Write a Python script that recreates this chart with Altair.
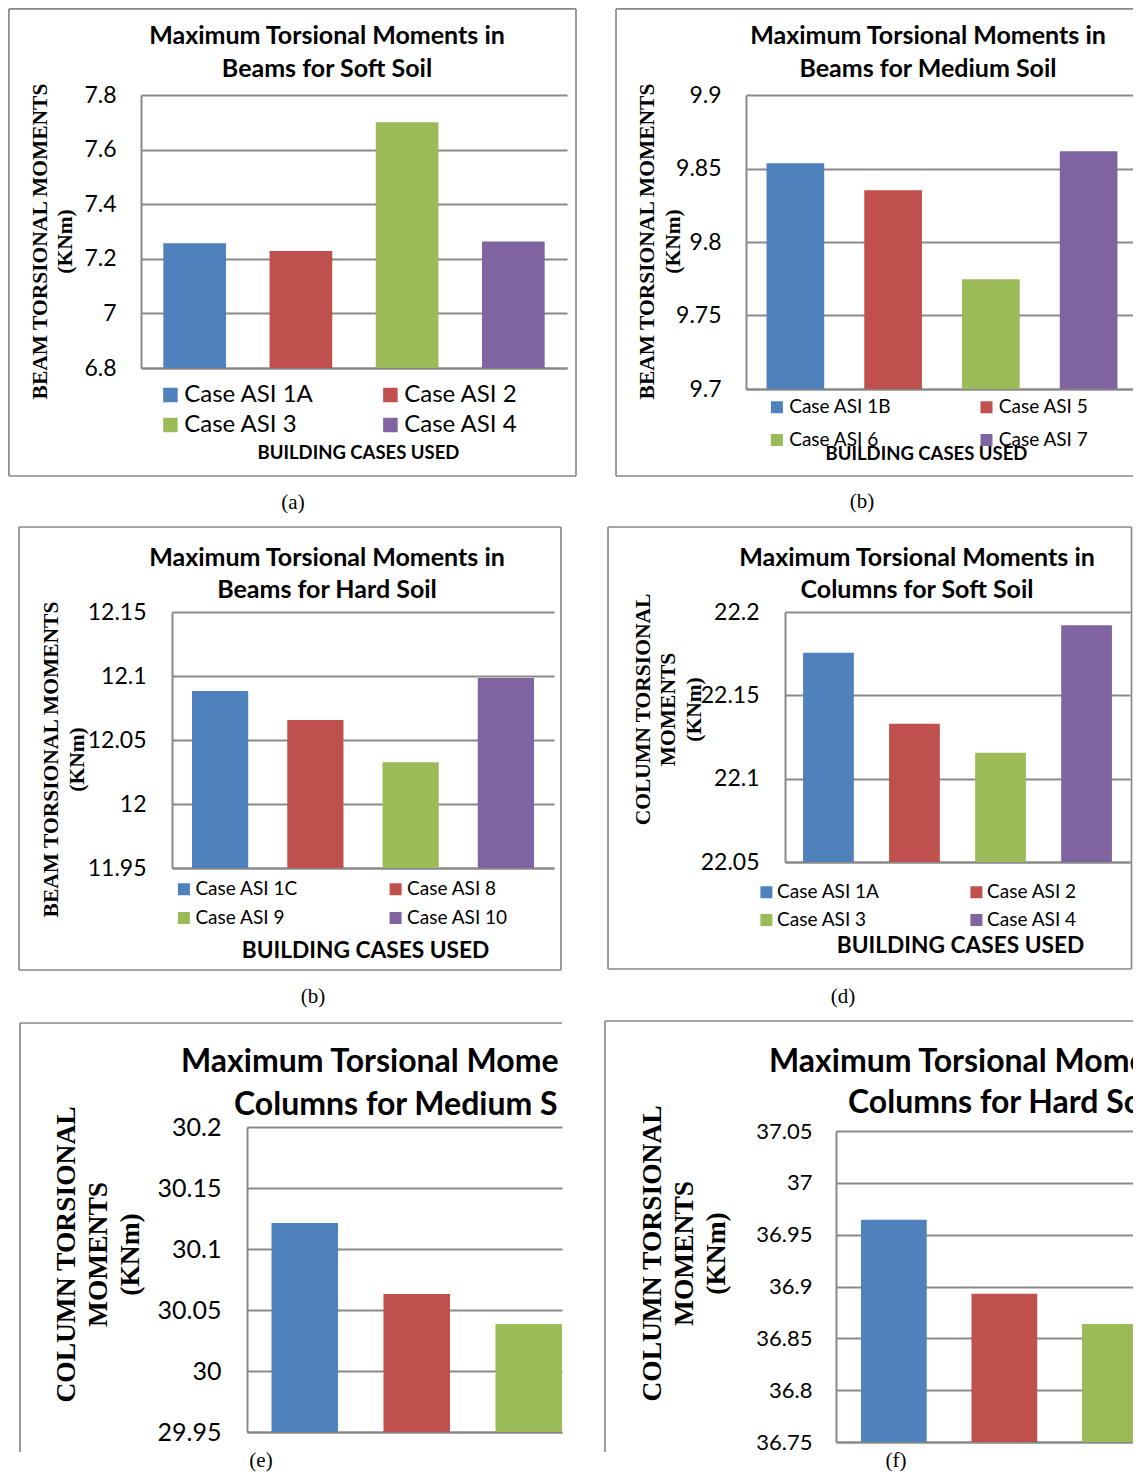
import altair as alt
import pandas as pd

# ---------------- data ----------------
cases_a = ["Case ASI 1A", "Case ASI 2", "Case ASI 3", "Case ASI 4"]
vals_a = [7.257, 7.229, 7.700, 7.263]
ticks_a = [6.8, 7.0, 7.2, 7.4, 7.6, 7.8]

cases_b = ["Case ASI 1B", "Case ASI 5", "Case ASI 6", "Case ASI 7"]
vals_b = [9.8536, 9.8352, 9.7747, 9.8618]
ticks_b = [9.7, 9.75, 9.8, 9.85, 9.9]

cases_c = ["Case ASI 1C", "Case ASI 8", "Case ASI 9", "Case ASI 10"]
vals_c = [12.0883, 12.0656, 12.0326, 12.0984]
ticks_c = [11.95, 12.0, 12.05, 12.1, 12.15]

cases_d = ["Case ASI 1A", "Case ASI 2", "Case ASI 3", "Case ASI 4"]
vals_d = [22.1756, 22.1330, 22.1156, 22.1920]
ticks_d = [22.05, 22.1, 22.15, 22.2]

cases_e = ["Case ASI 1B", "Case ASI 5", "Case ASI 6"]
vals_e = [30.1213, 30.0631, 30.0385]
ticks_e = [29.95, 30.0, 30.05, 30.1, 30.15, 30.2]

cases_f = ["Case ASI 1C", "Case ASI 8", "Case ASI 9"]
vals_f = [36.9644, 36.8930, 36.8638]
ticks_f = [36.75, 36.8, 36.85, 36.9, 36.95, 37.0, 37.05]

colors = ["#4F81BD", "#C0504D", "#9BBB59", "#8064A2"]

# ---------------- layout helpers ----------------
M = 8
W, H = 1125, 1465
GRAY = "#898989"
one = pd.DataFrame({"k": [0]})


def hrule(x1, x2, y, w=1.7):
    return alt.Chart(one).mark_rule(color=GRAY, strokeWidth=w).encode(
        x=alt.value(x1 - M), x2=alt.value(x2 - M), y=alt.value(y - M))


def vrule(x, y1, y2, w=1.7):
    return alt.Chart(one).mark_rule(color=GRAY, strokeWidth=w).encode(
        x=alt.value(x - M), y=alt.value(y1 - M), y2=alt.value(y2 - M))


def label(text, x, y, font, size, weight="normal", align="center", limit=0):
    kw = dict(font=font, fontSize=size, fontWeight=weight, align=align,
              baseline="middle", color="black")
    if limit:
        kw.update(limit=limit, ellipsis="\u200b")
    return alt.Chart(one).mark_text(**kw).encode(
        x=alt.value(x - M), y=alt.value(y - M), text=alt.value(text))


def yaxis(ticks, L, lab_size, lab_pad, title_lines, t_size, t_lh, t1x, tcy):
    # t1x: page x of the first title line's centre; tcy: page y of title centre
    return alt.Axis(
        orient="left", offset=-(L - M), values=ticks, format="~g",
        labelFont="Lato", labelFontSize=lab_size, labelColor="black",
        labelPadding=lab_pad, labelFlush=False, labelOverlap=False, ticks=False,
        domainColor=GRAY, domainWidth=2, grid=True, gridColor=GRAY, gridWidth=2,
        title=title_lines, titleFont="Liberation Serif", titleFontSize=t_size,
        titleFontWeight="bold", titleColor="black", titleLineHeight=t_lh,
        titleAngle=270, titleAlign="center", titleBaseline="middle",
        titleX=t1x - L, titleY=tcy - M)


def xaxis(B, title=None, size=18, cx=0, cy=0):
    kw = dict(orient="bottom", offset=(B - M) - H, labels=False, ticks=False,
              grid=False, domainColor=GRAY, domainWidth=2)
    if title:
        kw.update(title=title, titleFont="Lato", titleFontWeight="bold",
                  titleFontSize=size, titleColor="black", titleX=cx - M,
                  titleY=cy - B, titleBaseline="middle", titleAlign="center")
    else:
        kw.update(title=None)
    return alt.Axis(**kw)


def legend(sq_x, row1, spacing, size, sym, colpad, off):
    return alt.Legend(
        orient="none", direction="horizontal",
        legendX=sq_x - 4.6 - M, legendY=row1 - size / 2 - M, columns=2,
        columnPadding=colpad, rowPadding=spacing - size, symbolType="square",
        symbolSize=sym * sym, symbolStrokeWidth=0, symbolOpacity=1,
        labelFont="Lato", labelFontSize=size, labelColor="black",
        labelOffset=off, title=None, padding=0)


def bars(cases, vals, dom, ticks, plot, band, yax, xax, leg):
    L, R, T, B = plot
    pin, pout, align = band
    df = pd.DataFrame({"case": cases, "value": vals})
    return alt.Chart(df).mark_bar().encode(
        x=alt.X("case:N", sort=dom,
                scale=alt.Scale(domain=dom, range=[L - M, R - M],
                                paddingInner=pin, paddingOuter=pout, align=align),
                axis=xax),
        y=alt.Y("value:Q",
                scale=alt.Scale(domain=[ticks[0], ticks[-1]], range=[B - M, T - M],
                                zero=False, nice=False),
                axis=yax),
        y2=alt.datum(ticks[0]),
        color=alt.Color("case:N", sort=dom,
                        scale=alt.Scale(domain=dom, range=colors[:len(dom)]),
                        legend=leg),
    )


TF = 25  # title font size, panels a-d
layers = []

# ---- panel (a) ----
pa = (141, 567, 95, 368)
layers += [
    hrule(8.9, 576, 8.9), hrule(8.9, 576, 476), vrule(8.9, 8.9, 476), vrule(576, 8.9, 476),
    label("Maximum Torsional Moments in", 327, 36, "Lato", TF, "bold"),
    label("Beams for Soft Soil", 327, 69, "Lato", TF, "bold"),
    label("(a)", 293, 503, "Liberation Serif", 21),
    bars(cases_a, vals_a, cases_a, ticks_a, pa, (0.41, 0.21, 0.5),
         yaxis(ticks_a, pa[0], 23, 25, ["BEAM TORSIONAL MOMENTS", "(KNm)"], 21.5, 25, 40, 241),
         xaxis(pa[3], "BUILDING CASES USED", 18.5, 358, 452),
         legend(163, 395, 30, 24, 14.5, 64, 1.8)),
]

# ---- panel (b) ----  (runs off the right edge, as in the reference)
pb = (746, 1138, 95, 389)
layers += [
    hrule(616, 1160, 8.9), hrule(616, 1160, 476), vrule(616, 8.9, 476),
    label("Maximum Torsional Moments in", 928, 36, "Lato", TF, "bold"),
    label("Beams for Medium Soil", 928, 69, "Lato", TF, "bold"),
    label("(b)", 862, 502, "Liberation Serif", 21),
    bars(cases_b, vals_b, cases_b, ticks_b, pb, (0.41, 0.21, 0.5),
         yaxis(ticks_b, pb[0], 23, 25, ["BEAM TORSIONAL MOMENTS", "(KNm)"], 21.5, 26, 647, 241),
         xaxis(pb[3], "BUILDING CASES USED", 18.5, 926, 453),
         legend(772, 407, 32, 19, 12, 85.6, 2.8)),
]

# ---- panel (c) ----
pc = (172, 554, 612, 868)
layers += [
    hrule(19, 561, 527), hrule(19, 561, 970), vrule(19, 527, 970), vrule(561, 527, 970),
    label("Maximum Torsional Moments in", 327, 558, "Lato", TF, "bold"),
    label("Beams for Hard Soil", 327, 590, "Lato", TF, "bold"),
    label("(b)", 313, 997, "Liberation Serif", 21),
    bars(cases_c, vals_c, cases_c, ticks_c, pc, (0.41, 0.21, 0.5),
         yaxis(ticks_c, pc[0], 23, 26, ["BEAM TORSIONAL MOMENTS", "(KNm)"], 21.5, 26, 51, 759),
         xaxis(pc[3], "BUILDING CASES USED", 22.7, 365, 950),
         legend(179, 889, 28, 19, 12, 87.7, 2)),
]

# ---- panel (d) ----
pd_ = (785, 1130, 612, 862)
layers += [
    hrule(608, 1131.5, 527), hrule(608, 1131.5, 969), vrule(608, 527, 969), vrule(1131.5, 527, 969),
    label("Maximum Torsional Moments in", 917, 558, "Lato", TF, "bold"),
    label("Columns for Soft Soil", 917, 590, "Lato", TF, "bold"),
    label("(d)", 843, 997, "Liberation Serif", 21),
    bars(cases_d, vals_d, cases_d, ticks_d, pd_, (0.41, 0.21, 0.5),
         yaxis(ticks_d, pd_[0], 23, 26, ["COLUMN TORSIONAL", "MOMENTS", "(KNm)"], 21.5, 25.5, 643, 709),
         xaxis(pd_[3], "BUILDING CASES USED", 22.7, 960, 945),
         legend(761.5, 892, 27, 19, 12, 87, 1.2)),
]

# ---- panel (e) ----
pe = (247, 562, 1127, 1432)
layers += [
    hrule(20, 562, 1023), vrule(20, 1023, 1452),
    label("Maximum Torsional Moments in", 181, 1062, "Lato", 32, "bold", "left", 381),
    label("Columns for Medium Soil", 234, 1105, "Lato", 32, "bold", "left", 328),
    label("(e)", 261, 1461, "Liberation Serif", 21),
    bars(cases_e, vals_e, cases_e, ticks_e, pe, (0.406, 0.1094, 1.0),
         yaxis(ticks_e, pe[0], 25, 26, ["COLUMN TORSIONAL", "MOMENTS", "(KNm)"], 27.5, 32, 66, 1254),
         xaxis(pe[3]), None),
]

# ---- panel (f) ----  (runs off the right edge of the picture, as in the reference)
pf = (836, 1172.7, 1131, 1442)
layers += [
    hrule(605, 1160, 1021), vrule(605, 1021, 1452),
    label("Maximum Torsional Moments in", 769, 1062, "Lato", 32, "bold", "left"),
    label("Columns for Hard Soil", 848, 1103, "Lato", 32, "bold", "left"),
    label("(f)", 896, 1461, "Liberation Serif", 21),
    bars(cases_f, vals_f, cases_f, ticks_f, pf, (0.405, 0.226, 0.5),
         yaxis(ticks_f, pf[0], 22, 24, ["COLUMN TORSIONAL", "MOMENTS", "(KNm)"], 27.5, 32, 652, 1253),
         xaxis(pf[3]), None),
]

chart = (
    alt.layer(*layers)
    .resolve_scale(x="independent", y="independent", color="independent")
    .resolve_axis(x="independent", y="independent")
    .resolve_legend(color="independent")
    .properties(width=W, height=H, padding=0, background="white",
                autosize=alt.AutoSizeParams(type="none"))
    .configure_view(strokeWidth=0)
)

chart.save("out.html", embed_options={"renderer": "svg", "actions": False})
